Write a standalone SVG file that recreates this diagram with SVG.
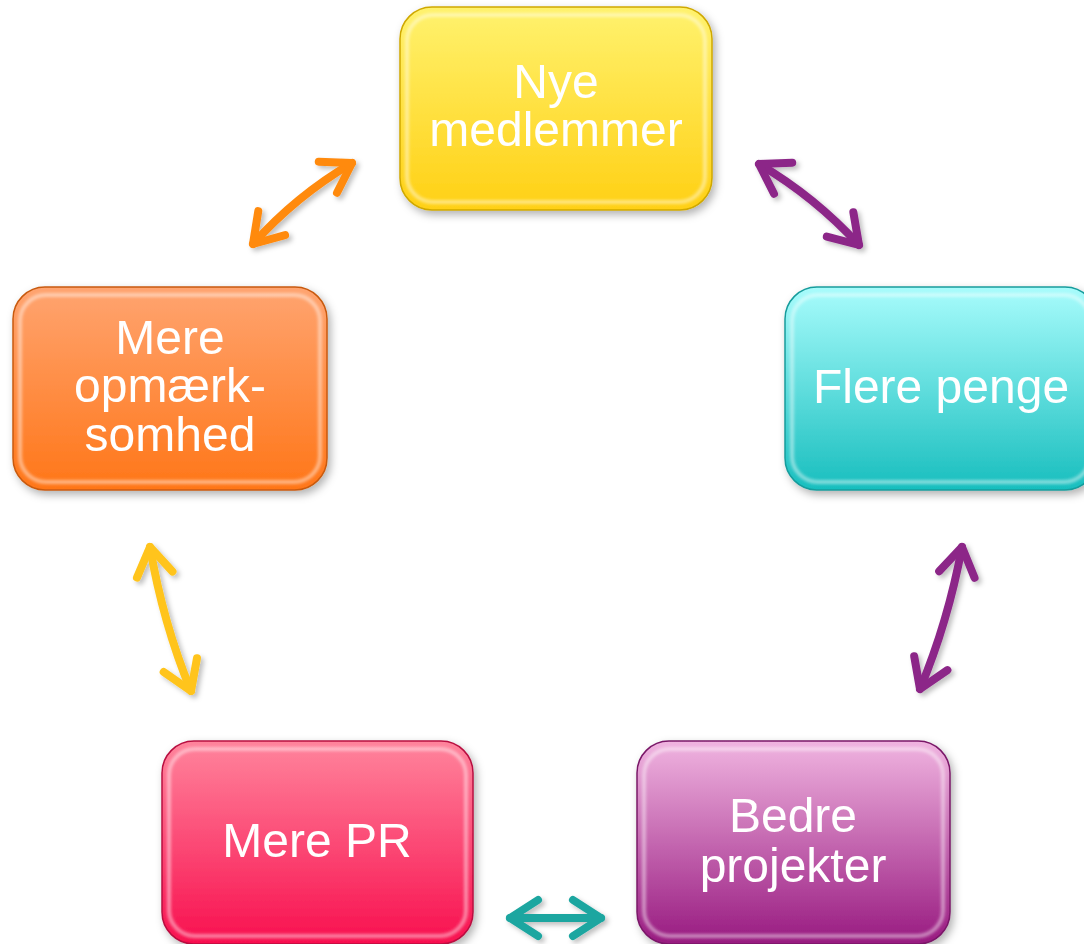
<svg xmlns="http://www.w3.org/2000/svg" width="1084" height="944" viewBox="0 0 1084 944">
<defs>
<style>
.box{stroke-width:1.5}
.gl{fill:none;stroke:#ffffff;stroke-opacity:0.45;stroke-width:4;filter:url(#blur)}
.lbl{font-family:"Liberation Sans",Arial,sans-serif;font-size:48px;fill:#ffffff;text-anchor:middle}
.arr{fill:none;stroke-width:8;stroke-linecap:round}
</style>
<filter id="sh" x="-10%" y="-10%" width="125%" height="125%"><feDropShadow dx="3" dy="4" stdDeviation="4" flood-color="#000" flood-opacity="0.3"/></filter>
<filter id="ash" filterUnits="userSpaceOnUse" x="0" y="0" width="1084" height="944"><feDropShadow dx="3" dy="3" stdDeviation="2.5" flood-color="#000" flood-opacity="0.25"/></filter>
<filter id="blur"><feGaussianBlur stdDeviation="1.5"/></filter>
<linearGradient id="gY" x1="0" y1="0" x2="0" y2="1"><stop offset="0" stop-color="#FFF26E"/><stop offset="1" stop-color="#FFD014"/></linearGradient>
<linearGradient id="gC" x1="0" y1="0" x2="0" y2="1"><stop offset="0" stop-color="#A8FCFC"/><stop offset="1" stop-color="#18BEBE"/></linearGradient>
<linearGradient id="gO" x1="0" y1="0" x2="0" y2="1"><stop offset="0" stop-color="#FFA470"/><stop offset="1" stop-color="#FF7618"/></linearGradient>
<linearGradient id="gP" x1="0" y1="0" x2="0" y2="1"><stop offset="0" stop-color="#FF849C"/><stop offset="1" stop-color="#F8104F"/></linearGradient>
<linearGradient id="gV" x1="0" y1="0" x2="0" y2="1"><stop offset="0" stop-color="#F0B4E0"/><stop offset="1" stop-color="#981A80"/></linearGradient>
<marker id="mO" markerUnits="userSpaceOnUse" markerWidth="70" markerHeight="70" viewBox="-35 -35 70 70" refX="0" refY="0" orient="auto-start-reverse" overflow="visible"><path d="M-28,-18 L0,0 L-28,18" fill="none" stroke="#FF8A10" stroke-width="8" stroke-linecap="round" stroke-linejoin="round"/></marker>
<marker id="mV" markerUnits="userSpaceOnUse" markerWidth="70" markerHeight="70" viewBox="-35 -35 70 70" refX="0" refY="0" orient="auto-start-reverse" overflow="visible"><path d="M-28,-18 L0,0 L-28,18" fill="none" stroke="#8C2888" stroke-width="8" stroke-linecap="round" stroke-linejoin="round"/></marker>
<marker id="mY" markerUnits="userSpaceOnUse" markerWidth="70" markerHeight="70" viewBox="-35 -35 70 70" refX="0" refY="0" orient="auto-start-reverse" overflow="visible"><path d="M-28,-18 L0,0 L-28,18" fill="none" stroke="#FFC41C" stroke-width="8" stroke-linecap="round" stroke-linejoin="round"/></marker>
<marker id="mT" markerUnits="userSpaceOnUse" markerWidth="70" markerHeight="70" viewBox="-35 -35 70 70" refX="0" refY="0" orient="auto-start-reverse" overflow="visible"><path d="M-28,-18 L0,0 L-28,18" fill="none" stroke="#1FA6A0" stroke-width="8" stroke-linecap="round" stroke-linejoin="round"/></marker>
</defs>
<rect width="1084" height="944" fill="#ffffff"/>

<g id="connectors" filter="url(#ash)">
<path class="arr" stroke="#FF8A10" marker-start="url(#mO)" marker-end="url(#mO)" d="M253,244 Q296,196 352,163"/>
<path class="arr" stroke="#8C2888" marker-start="url(#mV)" marker-end="url(#mV)" d="M759,164 Q815,197 859,245"/>
<path class="arr" stroke="#8C2888" marker-start="url(#mV)" marker-end="url(#mV)" d="M962,547 Q948,622 920,689"/>
<path class="arr" stroke="#FFC41C" marker-start="url(#mY)" marker-end="url(#mY)" d="M150,547 Q163,623 191,691"/>
<path class="arr" stroke="#1FA6A0" marker-start="url(#mT)" marker-end="url(#mT)" d="M510,918 L601,918"/>
</g>

<g id="node-nye" filter="url(#sh)">
<rect class="box" x="400" y="7" width="312" height="203" rx="32" fill="url(#gY)" stroke="#CFA800"/>
<rect class="gl" x="407" y="15" width="298" height="187" rx="26"/>
<text class="lbl" x="556" y="98">Nye</text>
<text class="lbl" x="556" y="146">medlemmer</text>
</g>

<g id="node-flere" filter="url(#sh)">
<rect class="box" x="785" y="287" width="312" height="203" rx="32" fill="url(#gC)" stroke="#179C9C"/>
<rect class="gl" x="792" y="295" width="298" height="187" rx="26"/>
<text class="lbl" x="941" y="403">Flere penge</text>
</g>

<g id="node-opm" filter="url(#sh)">
<rect class="box" x="13" y="287" width="314" height="203" rx="32" fill="url(#gO)" stroke="#C85A10"/>
<rect class="gl" x="20" y="295" width="300" height="187" rx="26"/>
<text class="lbl" x="170" y="354">Mere</text>
<text class="lbl" x="170" y="402">opmærk-</text>
<text class="lbl" x="170" y="451">somhed</text>
</g>

<g id="node-pr" filter="url(#sh)">
<rect class="box" x="162" y="741" width="311" height="203" rx="32" fill="url(#gP)" stroke="#B81040"/>
<rect class="gl" x="169" y="749" width="297" height="187" rx="26"/>
<text class="lbl" x="317" y="857">Mere PR</text>
</g>

<g id="node-bedre" filter="url(#sh)">
<rect class="box" x="637" y="741" width="313" height="203" rx="32" fill="url(#gV)" stroke="#7A1868"/>
<rect class="gl" x="644" y="749" width="299" height="187" rx="26"/>
<text class="lbl" x="793" y="832">Bedre</text>
<text class="lbl" x="793" y="882">projekter</text>
</g>
</svg>
